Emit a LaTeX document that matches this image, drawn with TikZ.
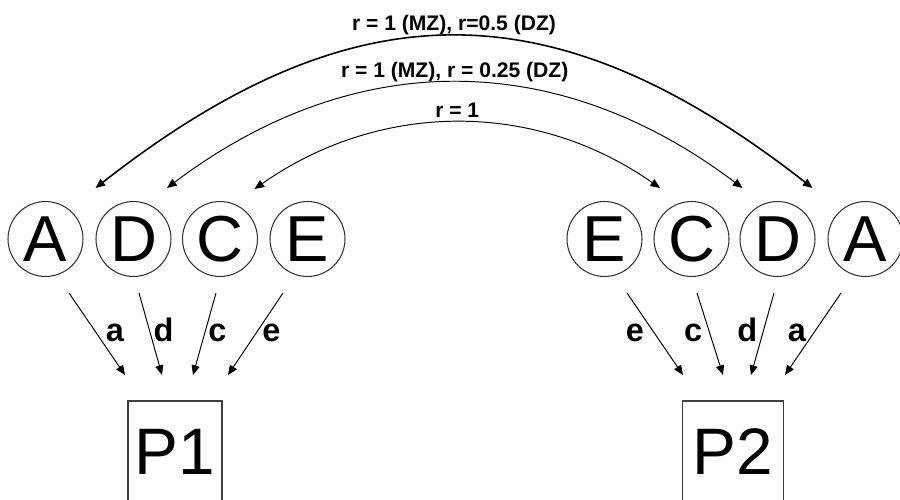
\documentclass[tikz,border=0pt]{standalone}
\usepackage{fontspec}
\setmainfont{Liberation Sans}
\usetikzlibrary{arrows.meta,calc}

\tikzset{
  ring/.style={circle, draw=black!80, line width=0.6pt, minimum size=1.5cm, inner sep=0pt,
    font=\fontsize{37}{40}\selectfont},
  procbox/.style={draw=black!75, line width=0.8pt, anchor=north, inner xsep=0pt, inner ysep=0pt,
    outer sep=0pt, text height=1.48cm, text depth=1.4cm, font=\fontsize{37.4}{40}\selectfont},
  feed/.style={-{Triangle[length=5.5pt,width=4.6pt]}, line width=0.55pt},
  xchg/.style={{Triangle[length=5.5pt,width=4.6pt]}-{Triangle[length=5.5pt,width=4.6pt]}, line width=0.55pt},
  toplbl/.style={font=\fontsize{12}{14}\selectfont\bfseries, anchor=base, yshift=0.11cm},
  lbl/.style={font=\fontsize{18.5}{20}\selectfont\bfseries, anchor=base},
}

\begin{document}
\begin{tikzpicture}[x=0.02cm, y=-0.02cm]
  \useasboundingbox (0,0) rectangle (900,500);
  \clip (0,0) rectangle (900,500);

  % stations on both sides
  \foreach \n/\x/\t in {lA/45.5/A, lD/133.5/D, lC/220/C, lE/307.5/E, rE/604.5/E, rC/691.5/C, rD/777.5/D, rA/865.5/A}
    \node[ring] (\n) at (\x,239) {\t};
  \node[procbox, minimum width=1.88cm] (P1) at (175,401) {P1};
  \node[procbox, minimum width=2.02cm] (P2) at (732.8,401) {P2};

  % exchange arcs
  \coordinate (aL) at ($(lA)+(50,-51)$);
  \coordinate (aR) at ($(rA)+(-53,-51)$);
  \coordinate (dL) at ($(lD)+(33.5,-51)$);
  \coordinate (dR) at ($(rD)+(-35,-51)$);
  \coordinate (cL) at ($(lC)+(34.5,-50)$);
  \coordinate (cR) at ($(rC)+(-31.5,-51)$);
  \draw[xchg, line width=0.9pt] (aL) to[out=38, in=142, looseness=1.175]
    node[toplbl, midway] (rateA) {r = 1 (MZ), r=0.5 (DZ)} (aR);
  \draw[xchg] (dL) to[out=37, in=143, looseness=1.04]
    node[toplbl, midway] (rateD) {r = 1 (MZ), r = 0.25 (DZ)} (dR);
  \draw[xchg] (cL) to[out=35, in=145, looseness=0.966]
    node[toplbl, midway] (rateC) {r = 1} (cR);

  % inputs to P1 and P2
  \foreach \n/\sx/\ex/\lx/\t in {lA/23.5/-50/19.7/a, lD/5.5/-13/13.7/d, lC/-4/18/12.3/c, lE/-24.5/53/14.3/e} {
    \draw[feed] ($(\n)+(\sx,54)$) coordinate (s\n) -- ($(P1.north)+(\ex,-26)$) coordinate (e\n);
    \node[lbl] (t\n) at ($(s\n)!.47!(e\n)+(\lx,10)$) {\t};
  }
  \foreach \n/\sx/\ex/\lx/\t in {rE/22.5/-49.8/-18.3/e, rC/5.5/-9.8/-16/c, rD/-3.5/18.2/-16/d, rA/-24.5/52.2/-17.7/a} {
    \draw[feed] ($(\n)+(\sx,54)$) coordinate (s\n) -- ($(P2.north)+(\ex,-26)$) coordinate (e\n);
    \node[lbl] (t\n) at ($(s\n)!.47!(e\n)+(\lx,10)$) {\t};
  }
\end{tikzpicture}
\end{document}
